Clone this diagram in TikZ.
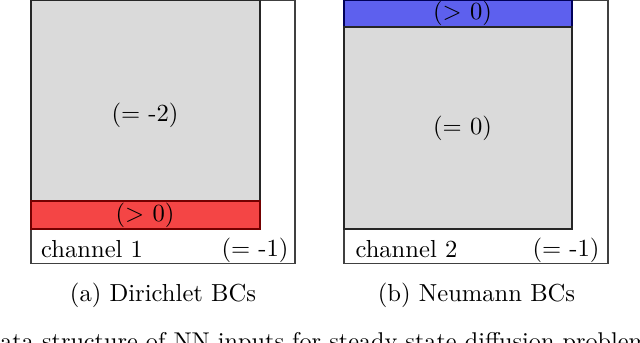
\documentclass[tikz,border=0pt]{standalone}
\definecolor{cellgray}{RGB}{218,218,218}
\definecolor{bcred}{RGB}{244,69,69}
\definecolor{bcblue}{RGB}{93,96,238}
\begin{document}
\begin{tikzpicture}[x=0.4065pt,y=-0.4065pt,
  outerbox/.style={draw=black!75,fill=white,line width=0.45pt},
  innerbox/.style={draw=black!85,fill=cellgray,line width=0.45pt},
  redbox/.style={draw=red!45!black,fill=bcred,line width=0.45pt},
  bluebox/.style={draw=blue!35!black,fill=bcblue,line width=0.45pt},
  lbl/.style={inner sep=0pt,font=\normalsize}]
\clip (0,0) rectangle (640,342);
% left panel
\draw[outerbox] (31,0.5) rectangle (295,263.5);
\draw[innerbox] (31,0.5) rectangle (260,201);
\draw[redbox] (31,201) rectangle (260,229);
\node[lbl] (lval) at (145,115) {(= -2)};
\node[lbl] (lbc) at (145,215) {($>$ 0)};
\node[lbl,anchor=base west] (lch) at (40.7,257) {channel 1};
\node[lbl,anchor=east] (lbg) at (289,250) {(= -1)};
\node[lbl] (lcap) at (163,295.5) {(a) Dirichlet BCs};
% right panel
\draw[outerbox] (344,0.5) rectangle (608,263.5);
\draw[bluebox] (344,0.5) rectangle (572,27);
\draw[innerbox] (344,27) rectangle (572,229);
\node[lbl] (rbc) at (462.5,13.5) {($>$ 0)};
\node[lbl] (rval) at (462.5,128) {(= 0)};
\node[lbl,anchor=base west] (rch) at (355,257) {channel 2};
\node[lbl,anchor=east] (rbg) at (600,250) {(= -1)};
\node[lbl] (rcap) at (476.5,295.5) {(b) Neumann BCs};
% figure caption (cut off by the frame)
\node[lbl,anchor=base west,font=\fontsize{9.85pt}{12pt}\selectfont] (figcap) at (-18.7,349) {Data structure of NN inputs for steady-state diffusion problems.};
\end{tikzpicture}
\end{document}
